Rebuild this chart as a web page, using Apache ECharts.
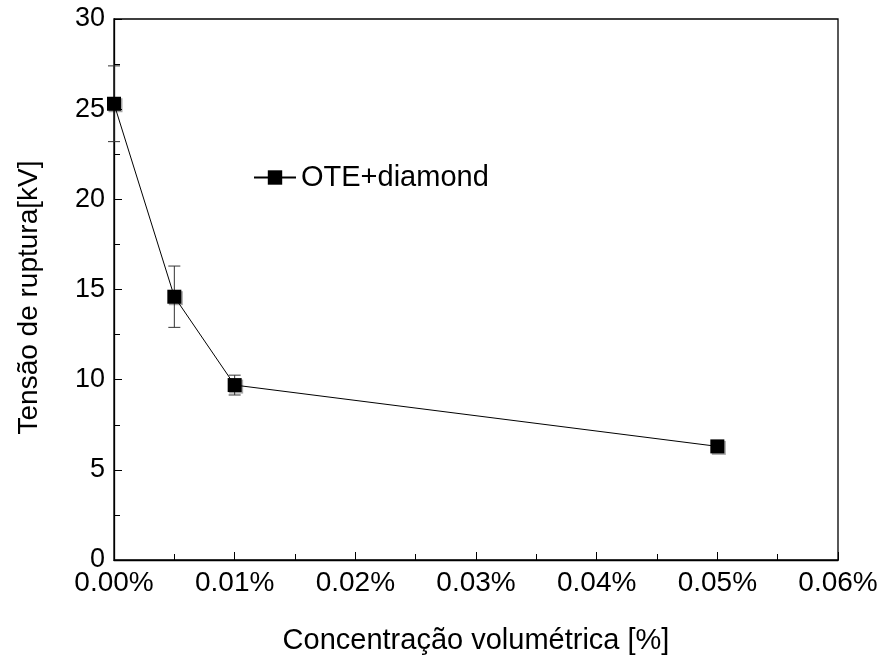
<!DOCTYPE html>
<html><head><meta charset="utf-8">
<script src="https://cdn.jsdelivr.net/npm/echarts@6/dist/echarts.min.js"></script>
<style>html,body{margin:0;padding:0;background:#fff}#c{width:882px;height:659px}</style>
</head><body><div id="c"></div>
<script>
const concentrations = [0.000, 0.005, 0.010, 0.050];
const tension = [25.3, 14.6, 9.7, 6.3];
const errors = [2.1, 1.7, 0.55, 0];
const seriesName = 'OTE+diamond';
const xTitle = 'Concentração volumétrica [%]';
const yTitle = 'Tensão de ruptura[kV]';

const font = 'Liberation Sans, Arial, sans-serif';
const chart = echarts.init(document.getElementById('c'));
const lineData = concentrations.map((x, i) => [x, tension[i]]);
const errData = concentrations.map((x, i) => [x, tension[i] - errors[i], tension[i] + errors[i]]).filter(d => d[2] > d[1]);

chart.setOption({
  animation: false,
  backgroundColor: '#fff',
  grid: { left: 114, right: 44, top: 19, bottom: 99, containLabel: false, outerBoundsMode: 'none', show: true, borderColor: '#000', borderWidth: 1.3, backgroundColor: 'transparent' },
  legend: {
    left: 248, top: 158, itemWidth: 42, itemHeight: 18, itemGap: 10,
    textStyle: { fontFamily: font, fontSize: 29, color: '#000' },
    data: [{ name: seriesName }]
  },
  xAxis: {
    type: 'value', min: 0, max: 0.06, interval: 0.01,
    name: xTitle, nameLocation: 'middle', nameGap: 66,
    nameTextStyle: { fontFamily: font, fontSize: 29, color: '#000' },
    axisLine: { show: true, lineStyle: { color: '#000', width: 1.3 } },
    axisTick: { show: true, inside: true, length: 8, lineStyle: { color: '#000' } },
    minorTick: { show: true, splitNumber: 2, length: 6, lineStyle: { color: '#000' } },
    splitLine: { show: false },
    axisLabel: { fontFamily: font, fontSize: 28, color: '#000', margin: 9, formatter: v => v.toFixed(2) + '%' }
  },
  yAxis: {
    type: 'value', min: 0, max: 30, interval: 5,
    name: yTitle, nameLocation: 'middle', nameGap: 71,
    nameTextStyle: { fontFamily: font, fontSize: 28, color: '#000', padding: [0, 16, 0, 0] },
    axisLine: { show: true, lineStyle: { color: '#000', width: 1.3 } },
    axisTick: { show: true, inside: true, length: 8, lineStyle: { color: '#000' } },
    minorTick: { show: true, splitNumber: 2, length: 6, lineStyle: { color: '#000' } },
    splitLine: { show: false },
    axisLabel: { fontFamily: font, fontSize: 27, color: '#000', margin: 9 }
  },
  series: [
    {
      type: 'custom', name: 'err', silent: true, z: 3,
      data: errData,
      renderItem: function (params, api) {
        const x = api.value(0);
        const lo = api.coord([x, api.value(1)]);
        const hi = api.coord([x, api.value(2)]);
        const hw = 6;
        const st = { stroke: '#333', lineWidth: 1 };
        return { type: 'group', children: [
          { type: 'line', shape: { x1: lo[0], y1: lo[1], x2: hi[0], y2: hi[1] }, style: st },
          { type: 'line', shape: { x1: lo[0] - hw, y1: lo[1], x2: lo[0] + hw, y2: lo[1] }, style: st },
          { type: 'line', shape: { x1: hi[0] - hw, y1: hi[1], x2: hi[0] + hw, y2: hi[1] }, style: st }
        ]};
      }
    },
    {
      type: 'line', name: seriesName, data: lineData, z: 5,
      symbol: 'rect', symbolSize: 14,
      lineStyle: { color: '#000', width: 1 },
      itemStyle: { color: '#000', shadowColor: 'rgba(0,0,0,0.35)', shadowOffsetX: 1.5, shadowOffsetY: 1.5, shadowBlur: 0 }
    }
  ]
});
</script></body></html>
